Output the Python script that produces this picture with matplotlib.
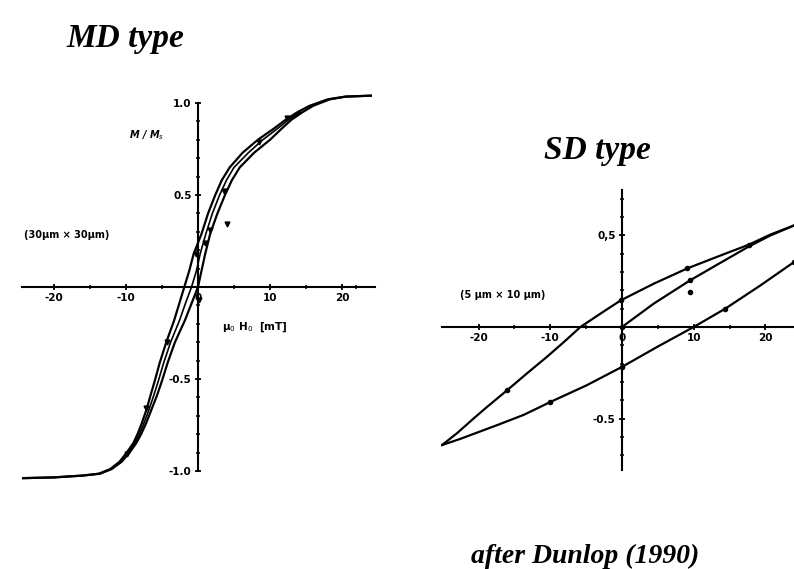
import numpy as np
import matplotlib
matplotlib.use("Agg")
import matplotlib.pyplot as plt
from matplotlib.ticker import FixedLocator

# ---- MD grain (30 um x 30 um): mu0*H0 in mT vs M/Ms ----
# descending branch (outer, left)
md_desc_m = [-1.04, -1.035, -1.025, -1.015, -0.99, -0.95, -0.90, -0.85, -0.80, -0.74,
             -0.66, -0.59, -0.51, -0.41, -0.30, -0.18, -0.09, 0.0, 0.09, 0.18,
             0.29, 0.40, 0.50, 0.58, 0.65, 0.73, 0.80, 0.86, 0.91, 0.95,
             0.985, 1.02, 1.035, 1.04]
md_desc_h = [-25.3, -20.0, -16.0, -13.8, -12.2, -10.9, -9.9, -9.0, -8.4, -7.8,
             -7.1, -6.6, -6.0, -5.3, -4.4, -3.3, -2.6, -1.9, -1.2, -0.6,
             0.5, 1.4, 2.4, 3.3, 4.4, 6.2, 8.3, 10.5, 12.2, 13.8,
             15.5, 18.0, 20.5, 24.0]
# ascending branch (inner, right)
md_asc_m = md_desc_m
md_asc_h = [-25.3, -20.0, -16.0, -13.6, -12.0, -10.6, -9.5, -8.6, -7.9, -7.2,
            -6.4, -5.7, -5.0, -4.2, -3.2, -1.8, -0.9, 0.0, 0.5, 1.0,
            1.7, 2.7, 3.75, 4.7, 5.8, 7.8, 10.0, 11.6, 13.0, 14.5,
            16.0, 18.3, 20.5, 24.0]
# second ascending curve lying between the two branches
md_mid_m = [-0.95, -0.90, -0.85, -0.80, -0.74, -0.66, -0.59, -0.51, -0.41, -0.30,
            -0.18, -0.09, 0.0, 0.09, 0.18, 0.29, 0.40, 0.50, 0.58, 0.65,
            0.73, 0.80, 0.86, 0.91, 0.95]
md_mid_h = [-10.7, -9.7, -8.8, -8.15, -7.5, -6.75, -6.15, -5.5, -4.75, -3.8,
            -2.55, -1.75, -0.9, -0.2, 0.3, 1.1, 2.0, 3.0, 3.95, 5.0,
            7.0, 9.0, 11.0, 12.6, 14.2]

md_tri_h = [4.1, -0.3, 1.0, 1.7, -4.3, -7.2, -9.9, 12.4, 3.6, 8.5, 0.2]
md_tri_m = [0.34, 0.18, 0.24, 0.31, -0.30, -0.66, -0.91, 0.92, 0.52, 0.79, -0.07]

# ---- SD grain (5 um x 10 um) ----
sd_desc_h = [24.0, 20.7, 17.7, 13.7, 9.1, 4.4, -0.2, -3.0, -5.8, -8.1,
             -10.5, -13.3, -16.0, -18.8, -20.7, -23.0, -25.1]
sd_desc_m = [0.555, 0.505, 0.45, 0.39, 0.32, 0.236, 0.145, 0.073, 0.0, -0.082,
             -0.164, -0.255, -0.345, -0.436, -0.50, -0.58, -0.645]

sd_asc_h = [-25.1, -22.6, -17.4, -13.7, -10.0, -4.9, 0.0, 4.9, 10.0, 14.4, 19.3, 24.0]
sd_asc_m = [-0.645, -0.612, -0.536, -0.48, -0.41, -0.318, -0.218, -0.109, 0.0, 0.10, 0.227, 0.355]

sd_init_h = [0.0, 4.4, 9.5, 13.7, 17.7, 20.7, 24.0]
sd_init_m = [0.0, 0.127, 0.255, 0.35, 0.44, 0.50, 0.555]

sd_dot_h = [9.1, 17.7, 9.5, -0.2, -16.0, -10.0, 14.4, 24.0, 0.0, 0.0, 9.5]
sd_dot_m = [0.32, 0.45, 0.255, 0.145, -0.345, -0.41, 0.10, 0.355, -0.218, 0.0, 0.19]

md_yticks = [-1.0, -0.5, 0.5, 1.0]
md_ylabels = ["-1.0", "-0.5", "0.5", "1.0"]
sd_yticks = [-0.5, 0.5]
sd_ylabels = ["-0.5", "0,5"]
xticks = [-20, -10, 0, 10, 20]
xlabels = ["-20", "-10", "0", "10", "20"]

TICKFONT = dict(family="DejaVu Sans", weight="bold", size=7.5)


def cross_axes(ax, xlim, ylim, xbounds, ybounds):
    ax.set_xlim(*xlim)
    ax.set_ylim(*ylim)
    for s in ["top", "right"]:
        ax.spines[s].set_visible(False)
    ax.spines["left"].set_position(("data", 0))
    ax.spines["bottom"].set_position(("data", 0))
    ax.spines["left"].set_bounds(*ybounds)
    ax.spines["bottom"].set_bounds(*xbounds)
    for s in ["left", "bottom"]:
        ax.spines[s].set_linewidth(1.5)
    ax.patch.set_visible(False)
    ax.tick_params(which="major", direction="inout", length=5, width=1.3, pad=2)
    ax.tick_params(which="minor", direction="inout", length=3.5, width=1.1)


fig = plt.figure(figsize=(7.94, 5.69), dpi=100)

# left panel: MD type
ax1 = fig.add_axes([0.0272, 0.1529, 0.4452, 0.6854])
cross_axes(ax1, (-24.5, 24.6), (-1.06, 1.06), (-24.5, 24.6), (-1.0, 1.0))
ax1.plot(md_desc_h, md_desc_m, color="black", lw=1.6)
ax1.plot(md_asc_h, md_asc_m, color="black", lw=1.6)
ax1.plot(md_mid_h, md_mid_m, color="black", lw=1.2)
ax1.plot(md_tri_h, md_tri_m, linestyle="none", marker="v", color="black", ms=3.5)
ax1.plot([-25.3], [-1.04], marker="o", color="black", ms=3.5)
ax1.set_xticks(xticks)
ax1.set_xticklabels(xlabels, **TICKFONT)
ax1.set_yticks(md_yticks)
ax1.set_yticklabels(md_ylabels, **TICKFONT)
ax1.yaxis.set_minor_locator(FixedLocator([v / 10 for v in range(-10, 11) if v % 5]))
ax1.xaxis.set_minor_locator(FixedLocator([-15, -5, 5, 15, 22]))
ax1.text(-9.6, 0.81, "M / M$_s$", fontsize=7, fontweight="bold", fontstyle="italic")
ax1.text(3.3, -0.23, "μ$_0$ H$_0$  [mT]", fontsize=7.5, fontweight="bold")
ax1.text(-24.2, 0.265, "(30μm × 30μm)", fontsize=7, fontweight="bold")

# right panel: SD type
ax2 = fig.add_axes([0.5549, 0.168, 0.4452, 0.505])
cross_axes(ax2, (-25.3, 24.0), (-0.80, 0.77), (-25.1, 24.0), (-0.78, 0.75))
ax2.plot(sd_desc_h, sd_desc_m, color="black", lw=1.6)
ax2.plot(sd_asc_h, sd_asc_m, color="black", lw=1.6)
ax2.plot(sd_init_h, sd_init_m, color="black", lw=1.6)
ax2.plot(sd_dot_h, sd_dot_m, linestyle="none", marker="o", color="black", ms=3)
ax2.set_xticks(xticks)
ax2.set_xticklabels(xlabels, **TICKFONT)
ax2.set_yticks(sd_yticks)
ax2.set_yticklabels(sd_ylabels, **TICKFONT)
ax2.yaxis.set_minor_locator(FixedLocator([v / 10 for v in range(-7, 8) if v % 5]))
ax2.xaxis.set_minor_locator(FixedLocator([-15, -5, 5, 15]))
ax2.text(-22.6, 0.16, "(5 μm × 10 μm)", fontsize=7, fontweight="bold")

# headings
serif = dict(family="Liberation Serif", style="italic", weight="bold")
fig.text(0.158, 0.933, "MD type", fontsize=24, ha="center", va="center", **serif)
fig.text(0.753, 0.735, "SD type", fontsize=24, ha="center", va="center", **serif)
fig.text(0.737, 0.022, "after Dunlop (1990)", fontsize=20, ha="center", va="center", **serif)

fig.savefig("out.png", dpi=100)
